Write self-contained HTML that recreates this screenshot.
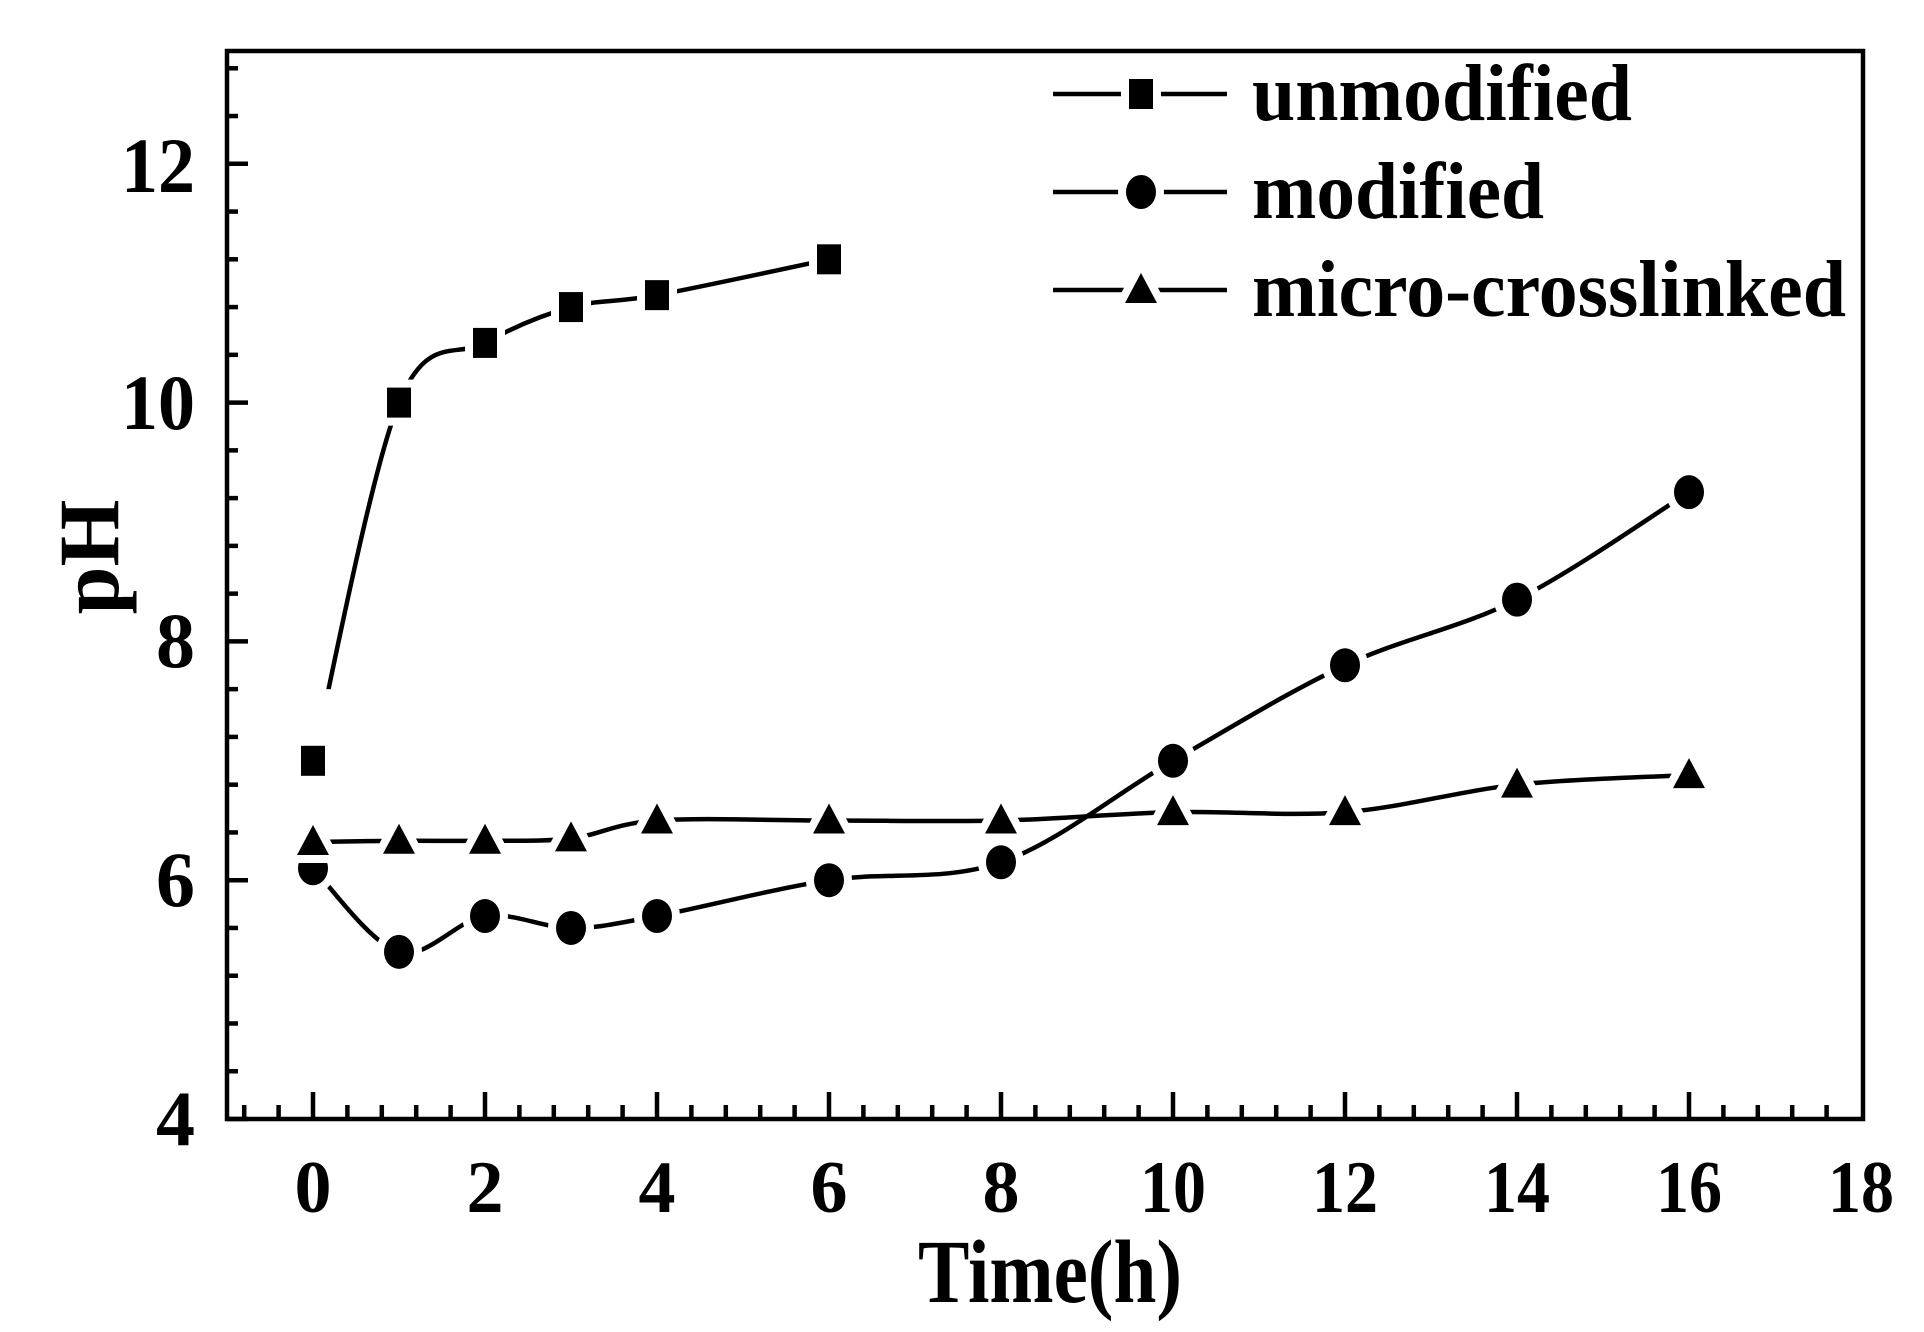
<!DOCTYPE html>
<html><head><meta charset="utf-8"><style>
html,body{margin:0;padding:0;background:#fff;}
svg{display:block;}
text{font-family:"Liberation Serif",serif;font-weight:bold;fill:#000;}
</style></head><body>
<svg id="s" width="1924" height="1332" viewBox="0 0 1924 1332" xmlns="http://www.w3.org/2000/svg">
<rect x="227" y="51" width="1636" height="1068" fill="none" stroke="#000" stroke-width="4.5"/>
<g id="ticks" stroke="#000" stroke-width="4.5"></g>
<g id="series"></g>
<g font-size="74" text-anchor="middle">
<text x="313" y="1212">0</text><text x="485" y="1212">2</text><text x="657" y="1212">4</text>
<text x="829" y="1212">6</text><text x="1001" y="1212">8</text><text x="1173" y="1212" textLength="66" lengthAdjust="spacingAndGlyphs">10</text>
<text x="1345" y="1212" textLength="66" lengthAdjust="spacingAndGlyphs">12</text><text x="1517" y="1212" textLength="66" lengthAdjust="spacingAndGlyphs">14</text><text x="1689" y="1212" textLength="66" lengthAdjust="spacingAndGlyphs">16</text>
<text x="1861" y="1212" textLength="66" lengthAdjust="spacingAndGlyphs">18</text>
</g>
<g font-size="78" text-anchor="end">
<text x="195" y="1145">4</text><text x="195" y="906">6</text><text x="195" y="667">8</text>
<text x="195" y="429" textLength="74" lengthAdjust="spacingAndGlyphs">10</text><text x="195" y="192" textLength="74" lengthAdjust="spacingAndGlyphs">12</text>
</g>
<text x="1050" y="1302" font-size="90" text-anchor="middle" textLength="264" lengthAdjust="spacingAndGlyphs">Time(h)</text>
<text transform="translate(118,557) rotate(-90)" font-size="86" text-anchor="middle">pH</text>
<g font-size="80">
<text x="1252" y="120" textLength="380" lengthAdjust="spacingAndGlyphs">unmodified</text>
<text x="1252" y="218" textLength="292" lengthAdjust="spacingAndGlyphs">modified</text>
<text x="1252" y="316" textLength="594" lengthAdjust="spacingAndGlyphs">micro-crosslinked</text>
</g>
</svg>
<script>
const NS="http://www.w3.org/2000/svg";
const X=h=>313+86*h, Y=p=>1119-119.4*(p-4);
const tk=document.getElementById('ticks');
function line(x1,y1,x2,y2,g,w){const l=document.createElementNS(NS,'line');l.setAttribute('x1',x1);l.setAttribute('y1',y1);l.setAttribute('x2',x2);l.setAttribute('y2',y2);if(w)l.setAttribute('stroke-width',w);g.appendChild(l);}
for(let i=-2;i<=45;i++){const h=i*0.4;const x=X(h);if(x<230||x>1860)continue;const maj=i%5==0;line(x,1119,x,1119-(maj?27:14),tk);}
for(let i=0;i<=22;i++){const p=4+i*0.4;const y=Y(p);if(y<60)continue;const maj=i%5==0;line(227,y,227+(maj?21:11),y,tk);}
const data=[
 {m:'s',d:[[0,7],[1,10],[2,10.5],[3,10.8],[4,10.9],[6,11.2]]},
 {m:'c',d:[[0,6.1],[1,5.4],[2,5.7],[3,5.6],[4,5.7],[6,6.0],[8,6.15],[10,7.0],[12,7.8],[14,8.35],[16,9.25]]},
 {m:'t',d:[[0,6.32],[1,6.33],[2,6.33],[3,6.35],[4,6.5],[6,6.5],[8,6.5],[10,6.57],[12,6.57],[14,6.8],[16,6.88]]}
];
const g=document.getElementById('series');
function marker(t,x,y){let e;
 if(t=='s'){e=document.createElementNS(NS,'rect');e.setAttribute('x',x-12);e.setAttribute('y',y-15);e.setAttribute('width',24);e.setAttribute('height',30);}
 else if(t=='c'){e=document.createElementNS(NS,'ellipse');e.setAttribute('cx',x);e.setAttribute('cy',y);e.setAttribute('rx',15);e.setAttribute('ry',17);}
 else {e=document.createElementNS(NS,'polygon');e.setAttribute('points',`${x-16},${y+13} ${x+16},${y+13} ${x},${y-17}`);}
 e.setAttribute('fill','#000');e.setAttribute('stroke','#fff');e.setAttribute('stroke-width','16');e.setAttribute('paint-order','stroke');return e;}
const markers=[];
data.forEach(s=>{
 const P=s.d.map(([h,p])=>[X(h),Y(p)]);
 let d=`M${P[0][0]},${P[0][1]}`;
 for(let i=0;i<P.length-1;i++){const p0=P[Math.max(0,i-1)],p1=P[i],p2=P[i+1],p3=P[Math.min(P.length-1,i+2)];
  const c1=[p1[0]+(p2[0]-p0[0])/6,p1[1]+(p2[1]-p0[1])/6],c2=[p2[0]-(p3[0]-p1[0])/6,p2[1]-(p3[1]-p1[1])/6];
  d+=` C${c1[0]},${c1[1]} ${c2[0]},${c2[1]} ${p2[0]},${p2[1]}`;}
 const pa=document.createElementNS(NS,'path');pa.setAttribute('d',d);pa.setAttribute('fill','none');pa.setAttribute('stroke','#000');pa.setAttribute('stroke-width','4.5');g.appendChild(pa);
 P.forEach(p=>markers.push(marker(s.m,p[0],p[1])));
});
// gap above first unmodified point
const gp=document.createElementNS(NS,'rect');gp.setAttribute('x',X(0)-8);gp.setAttribute('y',Y(7.6));gp.setAttribute('width',40);gp.setAttribute('height',Y(7)-Y(7.6));gp.setAttribute('fill','#fff');g.appendChild(gp);
[[94,'s'],[192,'c'],[290,'t']].forEach(([y,m])=>{line(1053,y,1227,y,g,4.5);g.lastChild.setAttribute('stroke','#000');markers.push(marker(m,1141,y));});
markers.forEach(m=>g.appendChild(m));
</script>
</body></html>
